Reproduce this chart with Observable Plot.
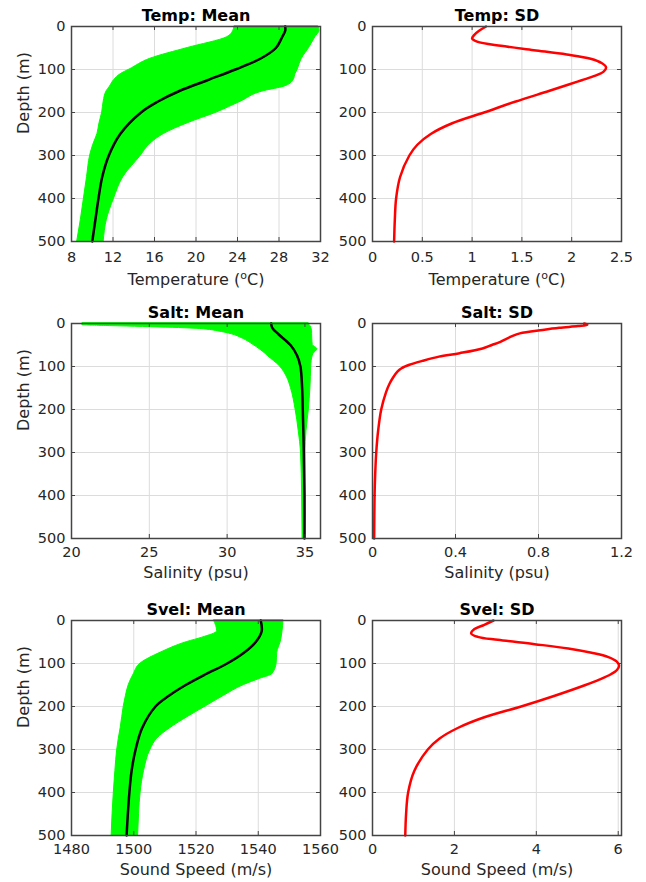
<!DOCTYPE html>
<html><head><meta charset="utf-8">
<script src="https://cdn.jsdelivr.net/npm/d3@7"></script>
<script src="https://cdn.jsdelivr.net/npm/@observablehq/plot@0.6"></script>
<style>
html,body{margin:0;padding:0;background:#fff;overflow:hidden;}
#chart{position:relative;width:646px;height:882px;overflow:hidden;}
#chart > svg{position:absolute;}
</style></head><body><div id="chart"></div>
<script>
// ---------- tick labels ----------
const depthTicks = [0, 100, 200, 300, 400, 500];
const tempMeanTicks = [8, 12, 16, 20, 24, 28, 32];
const tempSdTicks = [0, 0.5, 1, 1.5, 2, 2.5];
const saltMeanTicks = [20, 25, 30, 35];
const saltSdTicks = [0, 0.4, 0.8, 1.2];
const svelMeanTicks = [1480, 1500, 1520, 1540, 1560];
const svelSdTicks = [0, 2, 4, 6];

// ---------- Temperature ----------
const tempMeanDepth = [0, 10, 25, 50, 75, 100, 125, 150, 175, 200, 250, 300, 350, 400, 450, 500];
const tempMean      = [28.6, 28.6, 28.3, 27.7, 26.2, 23.8, 21.1, 18.4, 16.3, 14.7, 12.7, 11.6, 10.96, 10.6, 10.3, 10.0];
const tempEnvDepth  = [0, 10, 25, 50, 75, 100, 110, 125, 140, 150, 175, 200, 225, 250, 275, 300, 350, 400, 450, 500];
const tempMin       = [23.7, 23.6, 23.0, 19.2, 15.6, 13.6, 12.8, 12.1, 11.7, 11.4, 11.1, 10.96, 10.7, 10.5, 10.1, 9.8, 9.5, 9.2, 8.9, 8.55];
const tempMax       = [31.8, 31.9, 31.5, 30.9, 30.2, 29.8, 29.6, 29.4, 28.5, 26.6, 24.3, 22.0, 19.2, 16.9, 15.5, 14.7, 13.0, 12.1, 11.4, 11.1];
const tempSdDepth   = [0, 10, 20, 28, 35, 45, 55, 65, 75, 85, 95, 105, 115, 125, 135, 150, 175, 200, 225, 250, 275, 300, 350, 400, 450, 500];
const tempSd        = [1.14, 1.07, 1.02, 1.0, 1.05, 1.29, 1.62, 1.95, 2.19, 2.30, 2.345, 2.32, 2.23, 2.10, 1.97, 1.77, 1.43, 1.12, 0.80, 0.585, 0.45, 0.37, 0.277, 0.237, 0.224, 0.217];

// ---------- Salinity ----------
const saltMeanDepth = [0, 10, 25, 50, 75, 100, 150, 200, 300, 400, 500];
const saltMean      = [32.83, 32.9, 33.3, 34.07, 34.5, 34.71, 34.82, 34.86, 34.93, 34.97, 34.97];
const saltEnvDepth  = [0, 4, 6, 8, 10, 12, 15, 18, 25, 35, 50, 60, 70, 75, 100, 125, 150, 200, 250, 300, 400, 500];
const saltMin       = [20.7, 20.7, 22.5, 24.6, 26.5, 27.9, 28.9, 29.4, 30.3, 31.0, 31.7, 32.1, 32.45, 32.6, 33.4, 33.85, 34.1, 34.4, 34.6, 34.75, 34.82, 34.85];
const saltMax       = [35.25, 35.3, 35.35, 35.4, 35.4, 35.42, 35.45, 35.46, 35.46, 35.47, 35.5, 35.8, 35.56, 35.5, 35.4, 35.38, 35.35, 35.25, 35.1, 35.03, 35.03, 35.03];
const saltSdDepth   = [0, 3, 6, 10, 15, 23, 30, 38, 44, 50, 58, 69, 77, 87, 96, 104, 112, 125, 140, 160, 200, 250, 300, 350, 400, 500];
const saltSd        = [1.02, 1.035, 0.99, 0.90, 0.82, 0.71, 0.67, 0.635, 0.61, 0.575, 0.53, 0.42, 0.32, 0.24, 0.178, 0.14, 0.12, 0.10, 0.082, 0.065, 0.042, 0.027, 0.018, 0.013, 0.010, 0.008];

// ---------- Sound speed ----------
const svelMeanDepth = [0, 25, 50, 75, 100, 125, 150, 175, 200, 250, 300, 350, 400, 450, 500];
const svelMean      = [1540.8, 1541.1, 1539.2, 1535.4, 1530.0, 1523.1, 1516.7, 1511.3, 1507.0, 1502.7, 1500.6, 1499.3, 1498.6, 1498.1, 1497.7];
const svelEnvDepth  = [0, 25, 40, 50, 75, 100, 125, 135, 150, 175, 200, 225, 250, 275, 300, 350, 400, 450, 500];
const svelMin       = [1525.8, 1526.8, 1522.0, 1517.2, 1508.6, 1502.2, 1500.0, 1499.3, 1498.4, 1497.5, 1496.8, 1496.3, 1495.8, 1495.2, 1494.7, 1494.1, 1493.6, 1493.2, 1492.9];
const svelMax       = [1548.1, 1547.8, 1547.5, 1547.2, 1546.1, 1545.9, 1544.5, 1540.8, 1535.4, 1529.0, 1523.1, 1517.2, 1511.8, 1507.5, 1505.4, 1503.3, 1502.2, 1501.7, 1501.4];
const svelSdDepth   = [0, 10, 20, 30, 38, 45, 55, 65, 75, 85, 95, 105, 115, 125, 137, 150, 175, 200, 225, 250, 275, 300, 350, 400, 450, 500];
const svelSd        = [2.955, 2.73, 2.49, 2.41, 2.57, 3.06, 3.96, 4.78, 5.35, 5.76, 5.96, 6.02, 5.97, 5.82, 5.55, 5.2, 4.45, 3.63, 2.73, 2.08, 1.63, 1.35, 1.02, 0.87, 0.82, 0.80];

// ---------- helpers ----------
const rows = (depth, cols) => depth.map((d, i) => {
  const o = {depth: d};
  for (const k in cols) o[k] = cols[k][i];
  return o;
});
const ink = "#262626";
const frameInk = "#444";
const green = "#00ff00";
const chart = document.getElementById("chart");

function panel({col, row, title, xLabel, xDomain, xTicks, marks}) {
  const left = col === 0;
  const W = left ? 340 : 316;
  const mL = left ? 71 : 42, mR = left ? 20 : 25;
  const H = 288, mT = 26, mB = 47;
  const plotW = W - mL - mR, plotH = H - mT - mB;
  const tl = 4;
  const tickPad = row === 0 ? 10 : 8;
  const labelDy = row === 0 ? 38.5 : 34.5;
  const svg = Plot.plot({
    width: W, height: H,
    marginLeft: mL, marginRight: mR, marginTop: mT, marginBottom: mB,
    style: {background: "transparent", fontFamily: "'DejaVu Sans', sans-serif", fontSize: "14.5px", color: ink, overflow: "visible"},
    x: {domain: xDomain},
    y: {domain: [0, 500], reverse: true},
    marks: [
      Plot.gridX(xTicks, {stroke: "#dcdcdc", strokeOpacity: 1}),
      Plot.gridY(depthTicks, {stroke: "#dcdcdc", strokeOpacity: 1}),
      ...marks,
      Plot.tickX(xTicks, {x: d => d, insetTop: plotH - tl, stroke: frameInk, strokeWidth: 1}),
      Plot.tickX(xTicks, {x: d => d, insetBottom: plotH - tl, stroke: frameInk, strokeWidth: 1}),
      Plot.tickY(depthTicks, {y: d => d, insetRight: plotW - tl, stroke: frameInk, strokeWidth: 1}),
      Plot.tickY(depthTicks, {y: d => d, insetLeft: plotW - tl, stroke: frameInk, strokeWidth: 1}),
      Plot.frame({stroke: frameInk, strokeWidth: 1.5}),
      Plot.axisX({ticks: xTicks, tickSize: 0, tickPadding: tickPad, tickFormat: d => String(d), label: null}),
      Plot.axisY({ticks: depthTicks, tickSize: 0, tickPadding: 6, tickFormat: d => String(d), label: null}),
      Plot.text([xLabel], {text: d => d, frameAnchor: "bottom", dy: labelDy, lineAnchor: "middle", fontSize: 16, fill: ink}),
      Plot.text([title], {text: d => d, frameAnchor: "top", dy: -11, lineAnchor: "middle", fontSize: 16, fontWeight: "bold", fill: "#000"}),
      left ? Plot.text(["Depth (m)"], {text: d => d, frameAnchor: "left", dx: -48, rotate: -90, lineAnchor: "middle", fontSize: 16, fill: ink}) : null
    ]
  });
  // superscript "o" in degree labels
  d3.select(svg).selectAll("text").filter(function () { return this.textContent.includes("^o"); }).each(function () {
    const t = d3.select(this);
    const [a, b] = this.textContent.split("^o");
    t.text(null);
    t.append("tspan").text(a);
    t.append("tspan").attr("dy", -6).attr("font-size", 11).text("o");
    t.append("tspan").attr("dy", 6).text(b);
  });
  svg.style.left = (left ? 0 : 330) + "px";
  svg.style.top = (row * 297) + "px";
  chart.appendChild(svg);
}

const envMarks = (data, mean) => [
  Plot.areaX(data, {y: "depth", x1: "min", x2: "max", fill: green, stroke: green, strokeWidth: 1, curve: "monotone-y"}),
  Plot.line(mean, {x: "v", y: "depth", stroke: "#000", strokeWidth: 2.5, curve: "catmull-rom"})
];
const sdMarks = (sd) => [
  Plot.line(sd, {x: "v", y: "depth", stroke: "#ff0000", strokeWidth: 2.5, curve: "catmull-rom"})
];

panel({col: 0, row: 0, title: "Temp: Mean", xLabel: "Temperature (^oC)", xDomain: [8, 32], xTicks: tempMeanTicks,
  marks: envMarks(rows(tempEnvDepth, {min: tempMin, max: tempMax}), rows(tempMeanDepth, {v: tempMean}))});
panel({col: 1, row: 0, title: "Temp: SD", xLabel: "Temperature (^oC)", xDomain: [0, 2.5], xTicks: tempSdTicks,
  marks: sdMarks(rows(tempSdDepth, {v: tempSd}))});
panel({col: 0, row: 1, title: "Salt: Mean", xLabel: "Salinity (psu)", xDomain: [20, 36], xTicks: saltMeanTicks,
  marks: envMarks(rows(saltEnvDepth, {min: saltMin, max: saltMax}), rows(saltMeanDepth, {v: saltMean}))});
panel({col: 1, row: 1, title: "Salt: SD", xLabel: "Salinity (psu)", xDomain: [0, 1.2], xTicks: saltSdTicks,
  marks: sdMarks(rows(saltSdDepth, {v: saltSd}))});
panel({col: 0, row: 2, title: "Svel: Mean", xLabel: "Sound Speed (m/s)", xDomain: [1480, 1560], xTicks: svelMeanTicks,
  marks: envMarks(rows(svelEnvDepth, {min: svelMin, max: svelMax}), rows(svelMeanDepth, {v: svelMean}))});
panel({col: 1, row: 2, title: "Svel: SD", xLabel: "Sound Speed (m/s)", xDomain: [0, 6.08], xTicks: svelSdTicks,
  marks: sdMarks(rows(svelSdDepth, {v: svelSd}))});
</script>
</body></html>
